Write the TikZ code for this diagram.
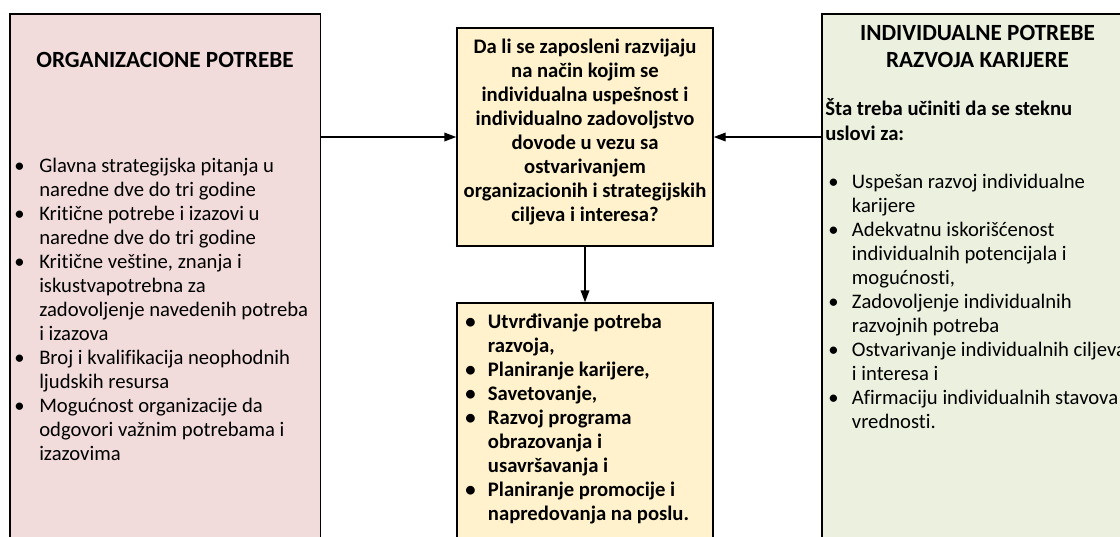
\documentclass[tikz,border=0pt]{standalone}
\usepackage{fontspec}
\setmainfont{Carlito}[Ligatures=NoCommon]
\usetikzlibrary{arrows.meta,fit}

\definecolor{orgfill}{HTML}{F2DCDB}
\definecolor{qfill}{HTML}{FFF2CC}
\definecolor{indfill}{HTML}{EBF1DE}

% bullet with a fixed hanging indent, and the matching indent for continued lines
\newcommand\itm[1][18.75pt]{\makebox[#1][l]{•}}
\newcommand\cont[1][18.75pt]{\hspace*{#1}}
% fixes the height of the first line so the first baseline sits 15pt below the top
\newcommand\firstline{\rule{0pt}{15pt}}

\begin{document}
\begin{tikzpicture}[x=0.75pt,y=-0.75pt,
  panel/.style={draw=black, line width=1.1pt, inner sep=0pt},
  txt/.style={inner sep=0pt, font=\fontsize{15.5}{18}\selectfont},
  txtb/.style={inner sep=0pt, font=\fontsize{15.5}{18}\selectfont\bfseries},
  ttl/.style={inner sep=0pt, font=\fontsize{17.4}{20}\selectfont\bfseries},
  arr/.style={line width=1.1pt, -{Triangle[length=9pt,width=6.5pt]}}]

\useasboundingbox (0,0) rectangle (1120,536);

% panels
\node[panel, fill=orgfill, fit={(10,14) (320.5,560)}] (org) {};
\node[panel, fill=indfill, fit={(822,14) (1140,560)}] (ind) {};
\node[panel, fill=qfill, fit={(457,28) (713,246)}] (q) {};
\node[panel, fill=qfill, fit={(457,303) (713,560)}] (act) {};

% left panel
\node[ttl, anchor=base] (orgtitle) at (165,67.5) {ORGANIZACIONE POTREBE};
\node[txt, align=left, anchor=north west] (orglist) at (14,152) {\firstline\itm Glavna strategijska pitanja u\\
\cont naredne dve do tri godine\\
\itm Kritične potrebe i izazovi u\\
\cont naredne dve do tri godine\\
\itm Kritične veštine, znanja i\\
\cont iskustvapotrebna za\\
\cont zadovoljenje navedenih potreba\\
\cont i izazova\\
\itm Broj i kvalifikacija neophodnih\\
\cont ljudskih resursa\\
\itm Mogućnost organizacije da\\
\cont odgovori važnim potrebama i\\
\cont izazovima};

% central question
\node[txtb, align=center, anchor=north] (qtext) at (585,33.5) {\firstline Da li se zaposleni razvijaju\\
na način kojim se\\
individualna uspešnost i\\
individualno zadovoljstvo\\
dovode u vezu sa\\
ostvarivanjem\\
organizacionih i strategijskih\\
ciljeva i interesa?};

% activities
\node[txtb, align=left, anchor=north west] (acttext) at (465,308) {\firstline\itm[13.5pt] Utvrđivanje potreba\\
\cont[13.5pt] razvoja,\\
\itm[13.5pt] Planiranje karijere,\\
\itm[13.5pt] Savetovanje,\\
\itm[13.5pt] Razvoj programa\\
\cont[13.5pt] obrazovanja i\\
\cont[13.5pt] usavršavanja i\\
\itm[13.5pt] Planiranje promocije i\\
\cont[13.5pt] napredovanja na poslu.};

% right panel
\node[ttl, align=center, anchor=north] (indtitle) at (977.5,20.5) {\firstline INDIVIDUALNE POTREBE\\
RAZVOJA KARIJERE};
\node[txtb, align=left, anchor=north west] (indq) at (825,95) {\firstline Šta treba učiniti da se steknu\\[0.75pt]
uslovi za:};
\node[txt, align=left, anchor=north west] (indlist) at (828,168) {\firstline\itm[14.25pt] Uspešan razvoj individualne\\
\cont[14.25pt] karijere\\
\itm[14.25pt] Adekvatnu iskorišćenost\\
\cont[14.25pt] individualnih potencijala i\\
\cont[14.25pt] mogućnosti,\\
\itm[14.25pt] Zadovoljenje individualnih\\
\cont[14.25pt] razvojnih potreba\\
\itm[14.25pt] Ostvarivanje individualnih ciljeva\\
\cont[14.25pt] i interesa i\\
\itm[14.25pt] Afirmaciju individualnih stavova i\\
\cont[14.25pt] vrednosti.};

% connectors
\draw[arr] (org.east |- q.west) -- (q.west);
\draw[arr] (ind.west |- q.east) -- (q.east);
\draw[arr] (q.south) -- (act.north);
\end{tikzpicture}
\end{document}
